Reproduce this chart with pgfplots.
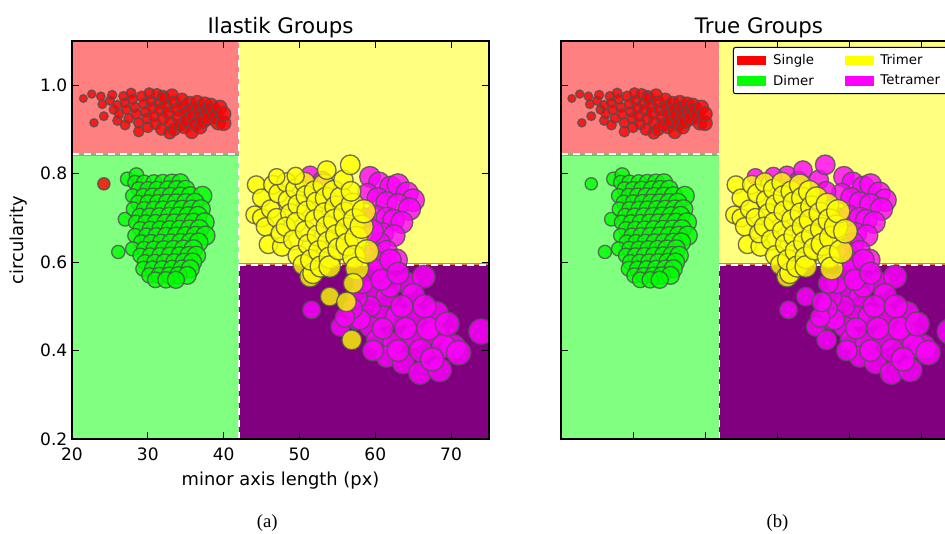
\documentclass[border=0pt]{standalone}
\usepackage{pgfplots}
\pgfplotsset{compat=1.18}
\usepackage{pgfplotstable}
\usepackage{fontspec}
\setmainfont{DejaVu Sans}
\newfontfamily\capfont{Liberation Serif}

\definecolor{bgS}{RGB}{255,128,128}
\definecolor{bgD}{RGB}{128,255,128}
\definecolor{bgT}{RGB}{255,255,128}
\definecolor{bgQ}{RGB}{128,0,128}
\definecolor{cS}{RGB}{255,0,0}
\definecolor{cD}{RGB}{0,255,0}
\definecolor{cT}{RGB}{255,255,0}
\definecolor{cQ}{RGB}{255,0,255}
\definecolor{edgec}{RGB}{80,80,80}
\definecolor{lineD}{RGB}{110,190,110}
\definecolor{lineT}{RGB}{220,120,70}

% Single (Ilastik single, true single)
\pgfplotstableread{
x y
21.5 0.970
22.6 0.980
22.9 0.915
23.8 0.975
24.0 0.957
24.2 0.930
25.0 0.965
25.3 0.978
25.5 0.945
26.0 0.955
26.0 0.920
26.2 0.935
26.8 0.975
27.0 0.960
27.0 0.910
27.2 0.945
27.5 0.925
27.8 0.982
28.0 0.968
28.3 0.950
28.5 0.935
28.8 0.915
28.8 0.895
29.2 0.975
29.5 0.958
29.7 0.940
29.9 0.925
30.0 0.905
30.2 0.982
30.4 0.965
30.6 0.948
30.8 0.930
31.0 0.912
31.2 0.980
31.5 0.960
31.7 0.945
31.8 0.900
32.0 0.925
32.0 0.975
32.2 0.970
32.5 0.952
32.7 0.937
32.9 0.892
33.0 0.915
33.2 0.978
33.5 0.962
33.5 0.900
33.8 0.945
34.0 0.928
34.2 0.910
34.5 0.968
34.7 0.950
34.8 0.905
35.0 0.935
35.2 0.920
35.5 0.960
35.8 0.894
35.8 0.945
36.0 0.930
36.3 0.912
36.5 0.962
36.8 0.948
36.9 0.905
37.0 0.930
37.3 0.918
37.5 0.958
37.8 0.940
38.0 0.925
38.3 0.955
38.7 0.944
39.0 0.930
39.3 0.915
39.5 0.950
40.0 0.914
40.0 0.935
}\tabS

% Ilastik single, true dimer
\pgfplotstableread{
x y
24.2 0.777
}\tabSD

% Dimer
\pgfplotstableread{
x y
26.1 0.623
27.0 0.697
27.3 0.788
28.5 0.797
28.3 0.780
29.5 0.780
30.8 0.780
32.0 0.780
33.2 0.780
34.3 0.780
28.8 0.765
30.0 0.765
31.2 0.765
32.6 0.765
33.8 0.765
35.0 0.765
28.0 0.750
29.4 0.750
30.6 0.750
31.8 0.750
33.0 0.750
34.3 0.750
35.6 0.750
37.2 0.750
28.7 0.735
30.0 0.735
31.3 0.735
32.5 0.735
33.7 0.735
35.0 0.735
36.2 0.735
28.1 0.720
29.5 0.720
30.8 0.720
32.0 0.720
33.3 0.720
34.5 0.720
35.8 0.720
37.0 0.720
28.9 0.705
30.2 0.705
31.5 0.705
32.8 0.705
34.0 0.705
35.3 0.705
36.6 0.705
28.4 0.690
29.7 0.690
31.0 0.690
32.3 0.690
33.5 0.690
34.8 0.690
36.0 0.690
37.5 0.690
29.0 0.675
30.3 0.675
31.6 0.675
32.9 0.675
34.2 0.675
35.5 0.675
36.8 0.675
28.3 0.660
29.8 0.660
31.1 0.660
32.4 0.660
33.7 0.660
35.0 0.660
36.3 0.660
37.6 0.660
29.1 0.645
30.4 0.645
31.7 0.645
33.0 0.645
34.3 0.645
35.6 0.645
36.7 0.645
28.0 0.630
29.5 0.630
30.8 0.630
32.1 0.630
33.4 0.630
34.7 0.630
36.0 0.630
29.0 0.615
30.3 0.615
31.6 0.615
32.9 0.615
34.2 0.615
35.4 0.615
36.4 0.615
29.6 0.600
30.9 0.600
32.2 0.600
33.5 0.600
34.8 0.600
35.9 0.600
29.4 0.585
30.6 0.585
31.9 0.585
33.2 0.585
34.5 0.585
35.6 0.585
30.2 0.570
31.5 0.570
32.8 0.570
34.0 0.570
35.2 0.570
31.0 0.560
32.4 0.560
33.7 0.560
}\tabD

% Tetramer (Ilastik tetramer, true tetramer)
\pgfplotstableread{
x y
51.4 0.797
53.0 0.785
59.3 0.793
60.5 0.780
62.0 0.770
63.0 0.775
64.2 0.756
65.0 0.740
59.0 0.755
60.3 0.745
61.5 0.735
63.0 0.730
64.5 0.720
58.5 0.700
60.0 0.705
61.5 0.700
62.4 0.695
63.5 0.690
61.0 0.665
62.5 0.660
60.6 0.643
59.8 0.620
61.5 0.625
62.8 0.605
60.5 0.600
51.6 0.492
55.4 0.454
57.6 0.469
59.8 0.537
61.5 0.522
64.2 0.552
66.4 0.567
65.0 0.526
68.1 0.484
61.1 0.477
59.3 0.454
62.8 0.477
65.0 0.477
60.2 0.424
62.4 0.417
65.0 0.431
67.7 0.439
70.3 0.409
69.0 0.410
61.5 0.386
63.7 0.372
65.9 0.349
68.5 0.356
74.0 0.443
67.0 0.450
59.7 0.400
59.3 0.500
57.6 0.520
58.4 0.552
60.2 0.582
62.0 0.605
58.0 0.470
63.5 0.500
66.5 0.500
64.0 0.450
66.0 0.400
63.0 0.400
67.5 0.380
61.0 0.450
62.0 0.545
60.8 0.560
63.0 0.575
57.0 0.495
56.0 0.475
69.5 0.460
71.0 0.395
}\tabQ

% Ilastik tetramer, true trimer
\pgfplotstableread{
x y
59.5 0.670
}\tabQT

% Trimer (Ilastik trimer, true trimer)
\pgfplotstableread{
x y
44.3 0.775
44.1 0.707
45.0 0.745
45.0 0.700
45.5 0.680
45.9 0.640
46.5 0.775
46.2 0.720
47.2 0.755
47.0 0.700
47.7 0.635
47.5 0.665
48.3 0.780
48.5 0.740
48.8 0.710
48.2 0.680
49.5 0.765
49.8 0.730
49.6 0.690
49.2 0.650
49.8 0.615
50.5 0.594
50.7 0.780
50.9 0.750
51.0 0.715
50.8 0.670
51.2 0.640
51.4 0.567
51.8 0.575
51.5 0.605
52.0 0.760
52.3 0.735
52.1 0.695
52.4 0.660
52.6 0.625
52.8 0.590
53.2 0.775
53.5 0.745
53.3 0.710
53.6 0.680
53.8 0.645
54.0 0.610
54.0 0.590
54.5 0.760
54.8 0.725
54.6 0.695
54.9 0.660
55.2 0.630
55.5 0.745
56.0 0.710
56.2 0.675
56.3 0.640
57.0 0.730
57.3 0.695
57.5 0.655
57.2 0.612
57.6 0.586
58.2 0.680
58.9 0.624
58.5 0.715
}\tabT

% Ilastik trimer, true tetramer
\pgfplotstableread{
x y
47.0 0.793
49.5 0.795
53.6 0.808
55.8 0.786
56.7 0.820
56.8 0.760
57.1 0.552
54.0 0.522
56.2 0.510
56.9 0.424
}\tabTQ

\pgfplotsset{
  grp/.style 2 args={scatter, only marks, mark=*, forget plot,
    scatter/use mapped color={draw=edgec, fill=#1, line width=1pt, opacity=0.8},
    visualization depends on={\thisrow{x} \as \xval},
    scatter/@pre marker code/.append style={/tikz/mark size=#2*\xval}
  },
  panel/.style={
    scale only axis, height=298.5pt,
    anchor=south west,
    xmin=20, xmax=75, ymin=0.2, ymax=1.1,
    xtick={20,30,40,50,60,70}, ytick={0.2,0.4,0.6,0.8,1.0},
    tick align=inside, major tick length=5.25pt,
    tick style={black, line width=0.75pt},
    axis line style={line width=1pt},
    clip marker paths=true,
    axis on top,
    every axis title/.style={at={(axis description cs:0.5,1)}, anchor=base, yshift=6pt, font=\fontsize{16}{19}\selectfont},
    ticklabel style={font=\fontsize{12.8}{15}\selectfont},
    every axis x label/.style={at={(axis description cs:0.5,-0.118)}, anchor=base, font=\fontsize{13.4}{16}\selectfont},
    every axis y label/.style={at={(axis description cs:-0.127,0.5)}, rotate=90, anchor=center, font=\fontsize{13.4}{16}\selectfont},
    xticklabel style={anchor=base, yshift=-15.75pt},
  }
}

\newcommand{\regions}{%
  \addplot[forget plot, draw=none, fill=bgS] coordinates {(20,0.845) (42,0.845) (42,1.1) (20,1.1)};
  \addplot[forget plot, draw=none, fill=bgD] coordinates {(20,0.2) (42,0.2) (42,0.845) (20,0.845)};
  \addplot[forget plot, draw=none, fill=bgT] coordinates {(42,0.594) (75,0.594) (75,1.1) (42,1.1)};
  \addplot[forget plot, draw=none, fill=bgQ] coordinates {(42,0.2) (75,0.2) (75,0.594) (42,0.594)};
  \addplot[forget plot, lineD, line width=1.1pt] coordinates {(20,0.8425) (42,0.8425)};
  \addplot[forget plot, lineT, line width=1pt] coordinates {(42,0.5955) (75,0.5955)};
  \addplot[forget plot, white, line width=1.2pt, dash pattern=on 5.25pt off 3.75pt] coordinates {(20,0.845) (42,0.845)};
  \addplot[forget plot, white, line width=1.2pt, dash pattern=on 5.25pt off 3.75pt] coordinates {(42,0.594) (75,0.594)};
  \addplot[forget plot, white, line width=1.2pt, dash pattern=on 5.25pt off 3.75pt] coordinates {(42,0.2) (42,1.1)};
}

\begin{document}
\begin{tikzpicture}
\useasboundingbox (-54pt,-70.5pt) rectangle (654.75pt,329.25pt);
\begin{axis}[panel, at={(0pt,0pt)}, width=312.75pt,
  title={Ilastik Groups},
  xlabel={minor axis length (px)}, ylabel={circularity},
  xticklabels={20,30,40,50,60,70},
  yticklabels={0.2,0.4,0.6,0.8,1.0}]
\regions
\addplot[grp={cS}{0.135}] table[x=x,y=y] {\tabS};
\addplot[grp={cS}{0.19}] table[x=x,y=y] {\tabSD};
\addplot[grp={cD}{0.19}] table[x=x,y=y] {\tabD};
\addplot[grp={cQ}{0.13}] table[x=x,y=y] {\tabQ};
\addplot[grp={cQ}{0.15}] table[x=x,y=y] {\tabQT};
\addplot[grp={cT}{0.15}] table[x=x,y=y] {\tabT};
\addplot[grp={cT}{0.13}] table[x=x,y=y] {\tabTQ};
\end{axis}
\begin{axis}[panel, at={(366.75pt,0pt)}, width=297pt,
  title={True Groups},
  xticklabels={}, yticklabels={},
  legend columns=2,
  legend cell align=left,
  legend image code/.code={\fill[#1, draw=none, sharp corners] (0pt,-3.4pt) rectangle (21.75pt,3.4pt);},
  legend style={at={(0.4343,0.985)}, anchor=north west, draw=black, line width=0.75pt,
    rounded corners=1.5pt, font=\fontsize{10}{12}\selectfont,
    inner xsep=3pt, inner ysep=3pt, row sep=2.5pt,
    column sep=3pt,
    /tikz/every even column/.append style={column sep=21pt}}]
\regions
\addplot[grp={cS}{0.135}] table[x=x,y=y] {\tabS};
\addplot[grp={cD}{0.19}] table[x=x,y=y] {\tabD};
\addplot[grp={cD}{0.19}] table[x=x,y=y] {\tabSD};
\addplot[grp={cQ}{0.13}] table[x=x,y=y] {\tabQ};
\addplot[grp={cQ}{0.13}] table[x=x,y=y] {\tabTQ};
\addplot[grp={cT}{0.15}] table[x=x,y=y] {\tabT};
\addplot[grp={cT}{0.15}] table[x=x,y=y] {\tabQT};
\addlegendimage{fill=cS}\addlegendentry{Single}
\addlegendimage{fill=cT}\addlegendentry{Trimer}
\addlegendimage{fill=cD}\addlegendentry{Dimer}
\addlegendimage{fill=cQ}\addlegendentry{Tetramer}
\end{axis}
\node[font=\capfont\fontsize{14}{16}\selectfont, anchor=base] at (146.4pt,-66pt) {(a)};
\node[font=\capfont\fontsize{14}{16}\selectfont, anchor=base] at (529.1pt,-66pt) {(b)};
\end{tikzpicture}
\end{document}
